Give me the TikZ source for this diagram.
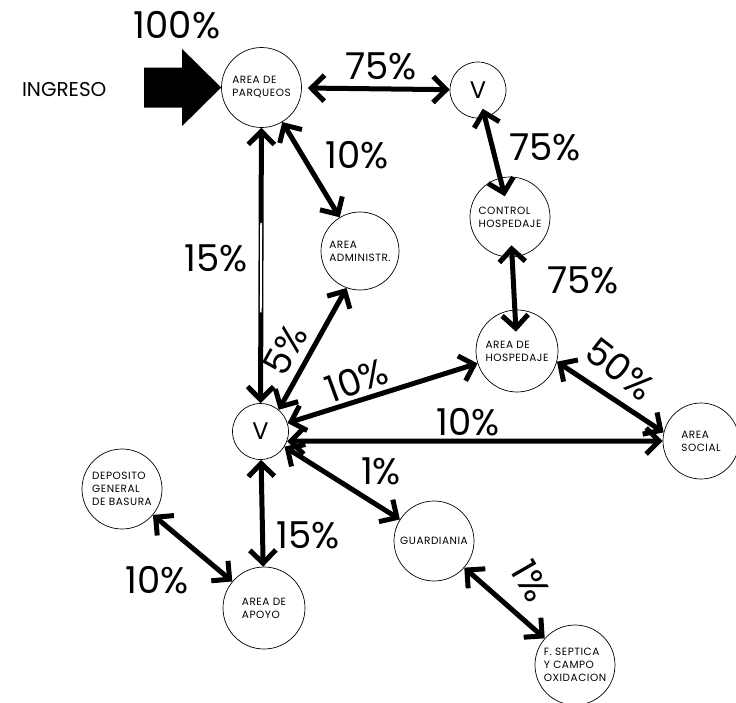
\documentclass[tikz,border=0pt]{standalone}
\usepackage{fontspec}
\setmainfont{Poppins}
\newfontfamily\areafont{Poppins}[LetterSpace=5]
\usetikzlibrary{arrows.meta,calc}

\begin{document}
\begin{tikzpicture}[
    x=1pt, y=-1pt,
    area/.style={circle, draw, line width=0.7pt, minimum size=80pt, inner sep=0pt, align=left,
        font=\areafont\fontsize{10.5}{13}\selectfont},
    vnode/.style={circle, draw, line width=0.7pt, minimum size=56pt, inner sep=0pt,
        font=\fontsize{24}{24}\selectfont},
    flow/.style={{Straight Barb[length=13pt,width=26pt]}-{Straight Barb[length=13pt,width=26pt]},
        line width=5pt},
    pct/.style={font=\fontsize{37}{37}\selectfont},
]

% Canvas
\fill[white] (0,0) rectangle (736,702);
\useasboundingbox (0,0) rectangle (736,702);

% Areas
\node[area] (pq) at (261.5,87.5) {AREA DE\\PARQUEOS};
\node[vnode] (vt) at (478,90) {V};
\node[area] (ch) at (510,217) {CONTROL\\HOSPEDAJE};
\node[area, minimum size=78pt] (ad) at (360,251) {AREA\\ADMINISTR.};
\node[area, minimum size=82pt] (ho) at (517,351) {AREA DE\\HOSPEDAJE};
\node[area, minimum size=76pt] (so) at (701,441) {AREA\\SOCIAL};
\node[vnode] (vc) at (260.5,431.5) {V};
\node[area] (dp) at (122,489) {DEPOSITO\\GENERAL\\DE BASURA};
\node[area, minimum size=82pt] (ap) at (264,608) {AREA DE\\APOYO};
\node[area] (gu) at (434,541) {GUARDIANIA};
\node[area] (fs) at (575,665) {F. SEPTICA\\Y CAMPO\\OXIDACION};

% Entrance
\fill (pq.west) -- ++(-39,-38.5) -- ++(0,18.5) -- ++(-38,0) -- ++(0,40)
    -- ++(38,0) -- ++(0,18.5) -- cycle;
\node[font=\fontsize{20}{20}\selectfont, anchor=east] (ing) at (110,90) {INGRESO};
\node[pct] (p100) at (177,25) {100\%};

% Flows
\draw[flow, shorten <=6pt] (pq) -- (vt);
\draw[flow, shorten <=-9pt, shorten >=-19pt] (vt) -- (ch);
\draw[flow] (pq) -- (ad);
\draw[flow] (pq) -- (vc);
\draw[white, line width=1.8pt] ($(pq.south)!0.345!(vc.north)$) -- ($(pq.south)!0.67!(vc.north)$);
\draw[flow] (ad.250) -- (vc.50);
\draw[flow, shorten <=-12pt, shorten >=-22pt] (ch) -- (ho);
\draw[flow] (vc) -- (ho);
\draw[flow] (vc.-20) -- (so.west);
\draw[flow] (ho.-15) -- (so.167);
\draw[flow] (vc) -- (ap);
\draw[flow] (vc) -- (gu);
\draw[flow] (dp) -- (ap);
\draw[flow] (gu) -- (fs);

% Percentages
\node[pct] (l75a) at (381,66) {75\%};
\node[pct] (l75b) at (545,147) {75\%};
\node[pct] (l10a) at (357,155) {10\%};
\node[pct] (l15a) at (216,258) {15\%};
\node[pct, rotate=61] (l5) at (285,350) {5\%};
\node[pct, rotate=20] (l10b) at (357,380) {10\%};
\node[pct] (l75c) at (583,280) {75\%};
\node[pct, rotate=-38] (l50) at (620,369) {50\%};
\node[pct] (l10c) at (468,422) {10\%};
\node[pct] (l1a) at (381,471) {1\%};
\node[pct] (l15b) at (308,535) {15\%};
\node[pct] (l10d) at (157,580) {10\%};
\node[pct, rotate=-60] (l1b) at (531,581) {1\%};

\end{tikzpicture}
\end{document}
